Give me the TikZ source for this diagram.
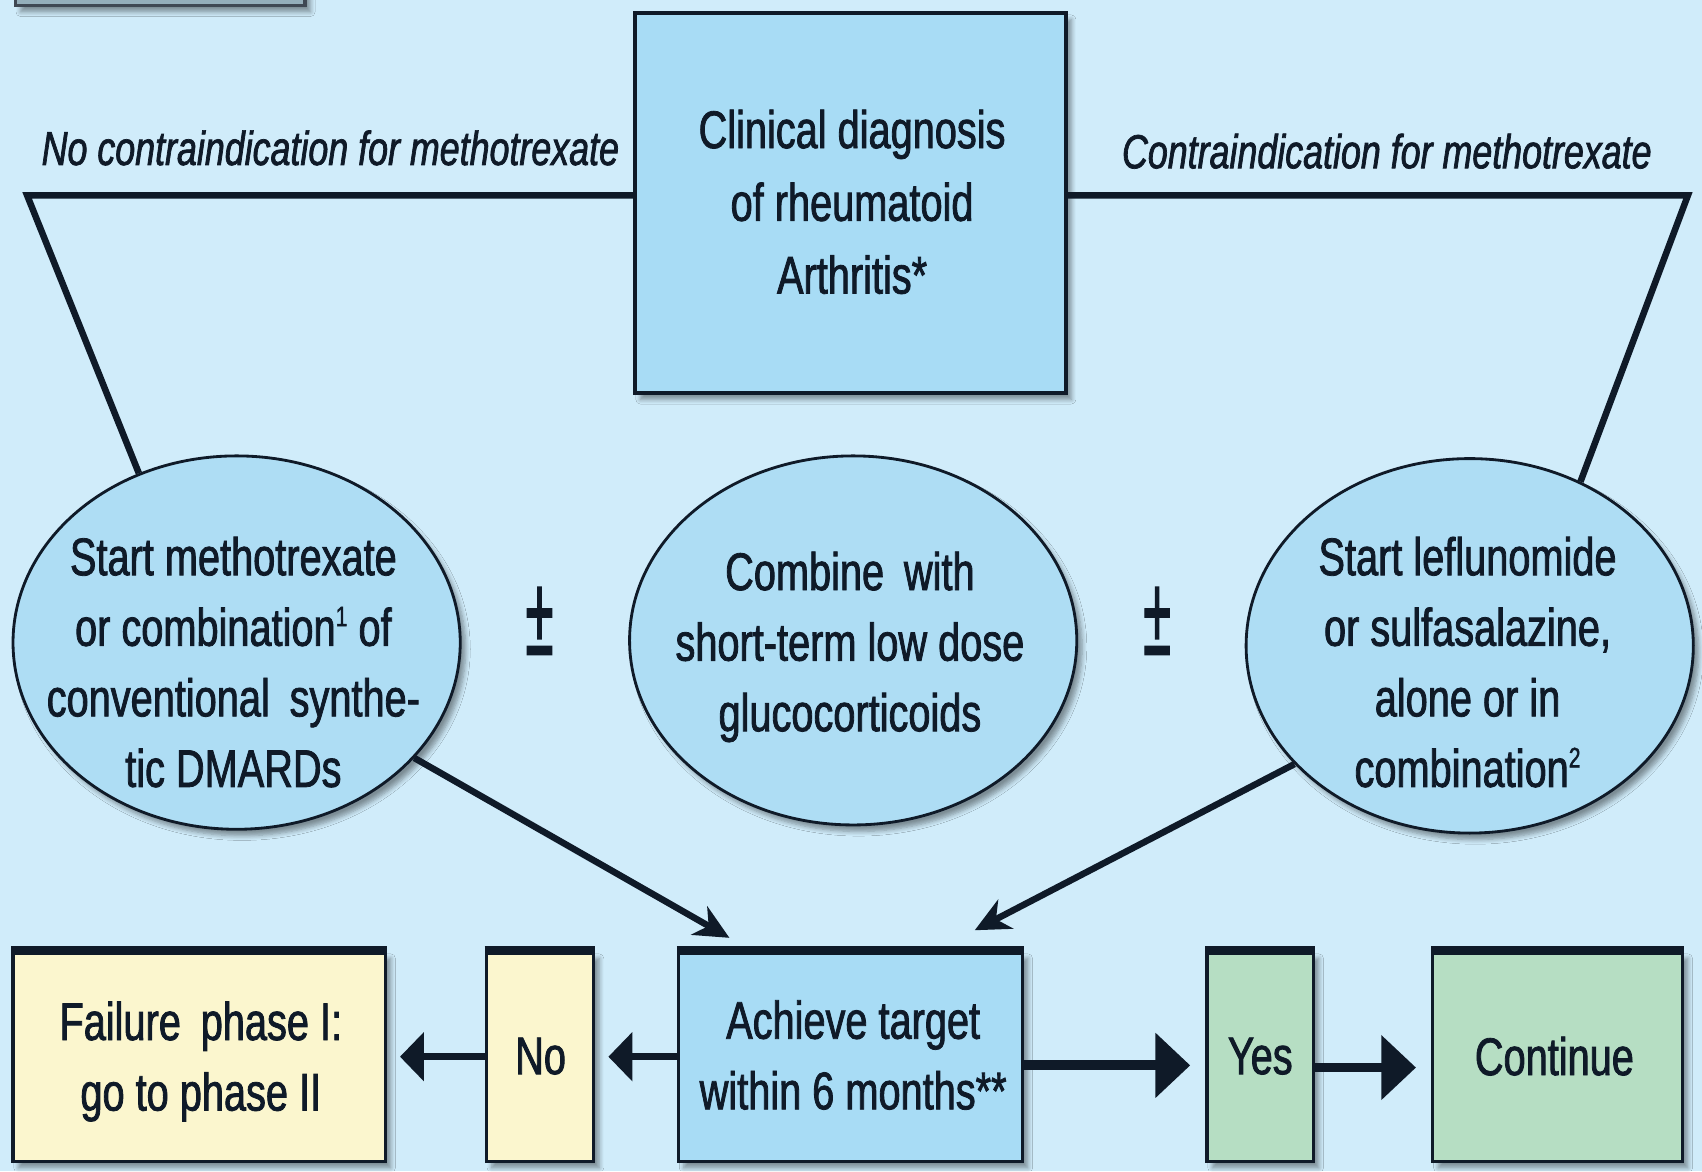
\documentclass[tikz,border=0pt]{standalone}
\usepackage{fontspec}
\setmainfont{Liberation Sans}[FakeStretch=0.75,FakeBold=1.5]
\usetikzlibrary{shapes.geometric,arrows.meta,shadows.blur}
\definecolor{bgc}{HTML}{D0ECFA}
\definecolor{boxblue}{HTML}{A8DCF5}
\definecolor{ellblue}{HTML}{AEDDF4}
\definecolor{ylw}{HTML}{FBF6CE}
\definecolor{grn}{HTML}{B6DEC3}
\definecolor{ink}{HTML}{0F1A28}
\newcommand{\supnum}[1]{\raisebox{9pt}{\fontsize{13}{13}\selectfont #1}}
\tikzset{
  shad/.style={blur shadow={shadow xshift=2.5pt,shadow yshift=-3pt,shadow blur steps=6,shadow opacity=40}},
  bluebox/.style={draw=ink,line width=2pt,fill=boxblue,minimum width=198.5pt,minimum height=175pt,shad},
  ell/.style={ellipse,draw=ink,line width=1.3pt,fill=ellblue,shad},
  bbox/.style={draw=ink,line width=1.5pt,minimum height=96.5pt,shad},
  txt/.style={align=center,text=ink,font=\fontsize{24.4}{32.5}\selectfont},
  lbl/.style={text=ink,font=\fontsize{22}{26}\selectfont\itshape,inner sep=0pt},
  conn/.style={draw=ink,line width=3pt,line join=miter},
  darr/.style={conn,-{Stealth[length=16pt,width=15pt,inset=5pt]}},
  sarr/.style={conn,line width=3pt,shorten >=6pt,-{Triangle[length=11pt,width=22pt]}},
  barr/.style={conn,line width=4.5pt,shorten >=7pt,-{Triangle[length=16pt,width=29pt]}},
  pm/.style={text=ink,font=\fontsize{52}{52}\selectfont}
}
\begin{document}
\begin{tikzpicture}[x=0.5pt,y=-0.5pt]
\fill[bgc] (0,0) rectangle (1568,1079);
\useasboundingbox (0,0) rectangle (1568,1079);
% remnant of a box at the top left
\draw[draw=ink!80,line width=1.5pt,fill=boxblue!50!gray,shad] (14,-60) rectangle (281,5);
% main box
\node[bluebox] (main) at (783.5,187) {};
\node[txt,font=\fontsize{24.4}{33.5}\selectfont] (maint) at (785,186) {Clinical diagnosis\\of rheumatoid\\Arthritis*};
% labels
\node[lbl,anchor=base west] (lblL) at (38,152) {No contraindication for methotrexate};
\node[lbl,anchor=base east] (lblR) at (1522,155) {Contraindication for methotrexate};
% ellipses
\node[ell,minimum width=206pt,minimum height=172pt] (le) at (218,592) {};
\node[ell,minimum width=206pt,minimum height=170pt] (me) at (786,590) {};
\node[ell,minimum width=206pt,minimum height=172.5pt] (re) at (1354,595) {};
\node[txt] (let) at (215,610) {Start methotrexate\\or combination\supnum{1} of\\conventional\, synthe-\\tic DMARDs};
\node[txt] (met) at (783,596) {Combine\, with\\short-term low dose\\glucocorticoids};
\node[txt] (ret) at (1352,610) {Start leflunomide\\or sulfasalazine,\\alone or in\\combination\supnum{2}};
\node[pm] (pm1) at (497,572) {\scalebox{0.6}[1]{±}};
\node[pm] (pm2) at (1066,572) {\scalebox{0.6}[1]{±}};
% top connectors
\coordinate (cl) at (25,180);
\coordinate (cr) at (1555,180);
\draw[conn] (main.west |- cl) -- (cl) -- (le.120.6);
\draw[conn] (main.east |- cr) -- (cr) -- (re.56.9);
% bottom boxes
\node[bbox,fill=ylw,minimum width=171.5pt] (fail) at (183.5,973.5) {};
\node[bbox,fill=ylw,minimum width=49.5pt] (no) at (497.5,973.5) {};
\node[bbox,fill=boxblue,minimum width=158.5pt] (ach) at (783.5,973.5) {};
\node[bbox,fill=grn,minimum width=49pt] (yes) at (1161,973.5) {};
\node[bbox,fill=grn,minimum width=115pt] (cont) at (1435,973.5) {};
\foreach \b in {fail,no,ach,yes,cont}{
  \draw[ink,line width=4pt] (\b.north west) -- (\b.north east);
}
\node[txt] (failt) at (185,978) {Failure\, phase I:\\go to phase II};
\node[txt] (not) at (498,973) {No};
\node[txt] (acht) at (786,972) {Achieve target\\within 6 months**};
\node[txt] (yest) at (1161,973) {Yes};
\node[txt] (contt) at (1432,973) {Continue};
% arrows from ellipses
\coordinate (a1) at (672,864);
\coordinate (a2) at (898,857);
\draw[darr] (le.-33) -- (a1);
\draw[darr] (re.214.7) -- (a2);
% bottom arrows
\draw[sarr] (ach.west) -- (no.east);
\draw[sarr] (no.west) -- (fail.east);
\draw[barr] ([yshift=-4pt]ach.east) -- ([yshift=-4pt]yes.west);
\draw[barr] ([yshift=-5pt]yes.east) -- ([yshift=-5pt]cont.west);
\end{tikzpicture}
\end{document}
